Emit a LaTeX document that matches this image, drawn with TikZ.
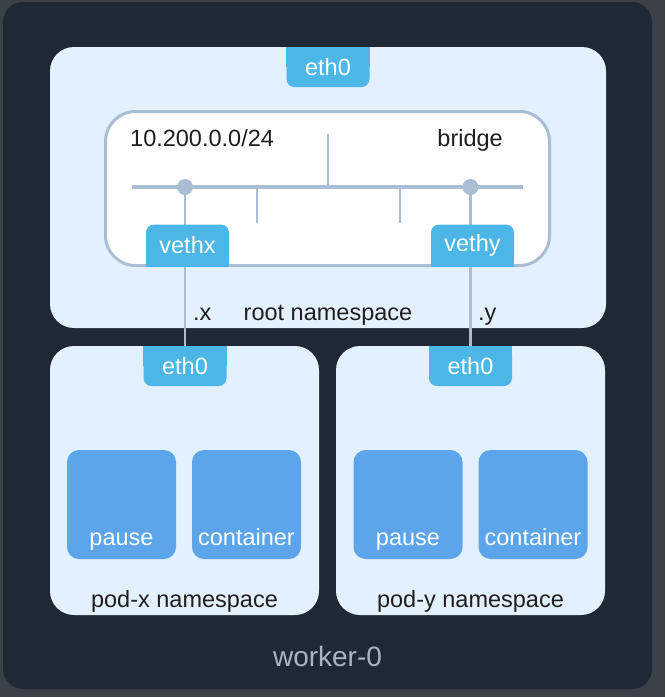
\documentclass[tikz,border=0pt]{standalone}
\usepackage{fontspec}
\setmainfont{Liberation Sans}
\definecolor{outerbg}{HTML}{3B4149}
\definecolor{workerbg}{HTML}{1F2935}
\definecolor{nsfill}{HTML}{E3F0FD}
\definecolor{tabcyan}{HTML}{4CB7E7}
\definecolor{ctrblue}{HTML}{5CA5EB}
\definecolor{wirecol}{HTML}{A9BDD5}
\definecolor{textdark}{HTML}{1F1F1F}
\definecolor{workertext}{HTML}{A9B5C3}
\tikzset{
  txt/.style={text=textdark, inner sep=0pt, font=\fontsize{23.5}{28}\selectfont},
  nsbox/.style={fill=nsfill, rounded corners=24pt, inner sep=0pt},
  tabbox/.style={fill=tabcyan, rounded corners=8pt, minimum width=83pt, minimum height=41pt, inner sep=0pt},
  tabtext/.style={text=white, inner sep=0pt, font=\fontsize{23.5}{28}\selectfont},
  ctrbox/.style={fill=ctrblue, rounded corners=12pt, minimum width=109pt, minimum height=109pt, inner sep=0pt},
  inlabel/.style={anchor=base, yshift=14pt, text=white, inner sep=0pt, font=\fontsize{23.5}{28}\selectfont},
  nslabel/.style={anchor=base, yshift=8pt, text=textdark, inner sep=0pt, font=\fontsize{23.5}{28}\selectfont},
  wlabel/.style={anchor=base, yshift=23pt, text=workertext, inner sep=0pt, font=\fontsize{28}{32}\selectfont},
  wire/.style={draw=wirecol, line width=2.5pt},
  buswire/.style={draw=wirecol, line width=4pt},
  portdot/.style={circle, fill=wirecol, minimum size=16pt, inner sep=0pt}
}
\begin{document}
\begin{tikzpicture}[x=1pt,y=-1pt]
\fill[outerbg] (0,0) rectangle (665,697);
\useasboundingbox (0,0) rectangle (665,697);
\draw (327.5,345.5) node (worker) [fill=workerbg, rounded corners=20pt, minimum width=649pt, minimum height=687pt, label={[wlabel]south:worker-0}] {};

\draw (328,187.5) node (root) [nsbox, minimum width=556pt, minimum height=281pt, label={[nslabel]south:root namespace}] {};
\draw (328,67) node (eth) [tabbox, minimum height=40pt] {};
\fill[tabcyan] (eth.north west) rectangle (eth.east);
\draw (eth) node (etht) [tabtext] {eth0};

\draw (327.5,188.5) node (br) [fill=white, draw=wirecol, line width=3pt, rounded corners=30pt, minimum width=444pt, minimum height=154pt] {};
\draw (130,146.5) node (net) [txt, anchor=base west] {10.200.0.0/24};
\draw (503,146.5) node (brname) [txt, anchor=base east] {bridge};
\draw[buswire] (132,187) -- (523,187);
\draw[wire] (328,134) -- (328,187);
\draw[wire] (257,187) -- (257,223);
\draw[wire] (400,187) -- (400,223);
\draw (185,187) node (px) [portdot] {};
\draw (470.5,187) node (py) [portdot] {};

\draw (184.5,480.5) node (podx) [nsbox, minimum width=269pt, minimum height=269pt, label={[nslabel]south:pod-x namespace}] {};
\draw (470.5,480.5) node (pody) [nsbox, minimum width=269pt, minimum height=269pt, label={[nslabel]south:pod-y namespace}] {};

\draw (185,366) node (ex) [tabbox, minimum height=40pt] {};
\fill[tabcyan] (ex.north west) rectangle (ex.east);
\draw (ex) node (ext) [tabtext] {eth0};
\draw (470.5,366) node (ey) [tabbox, minimum height=40pt] {};
\fill[tabcyan] (ey.north west) rectangle (ey.east);
\draw (ey) node (eyt) [tabtext] {eth0};

\draw (121.5,504.5) node (pausex) [ctrbox, label={[inlabel]south:pause}] {};
\draw (246.5,504.5) node (ctrx) [ctrbox, label={[inlabel]south:container}] {};
\draw (408,504.5) node (pausey) [ctrbox, label={[inlabel]south:pause}] {};
\draw (533,504.5) node (ctry) [ctrbox, label={[inlabel]south:container}] {};

\draw[wire] (px) -- (ex);
\draw[wire] (py) -- (ey);

\draw (187.5,245.5) node (vx) [tabbox, minimum height=42pt] {};
\fill[tabcyan] (vx.west) rectangle (vx.south east);
\draw (vx) node (vxt) [tabtext] {vethx};
\draw (472.5,245.5) node (vy) [tabbox, minimum height=42pt] {};
\fill[tabcyan] (vy.west) rectangle (vy.south east);
\draw (vy) node (vyt) [tabtext] {vethy};

\draw (193,320) node (dx) [txt, anchor=base west] {.x};
\draw (478,320) node (dy) [txt, anchor=base west] {.y};
\end{tikzpicture}
\end{document}
